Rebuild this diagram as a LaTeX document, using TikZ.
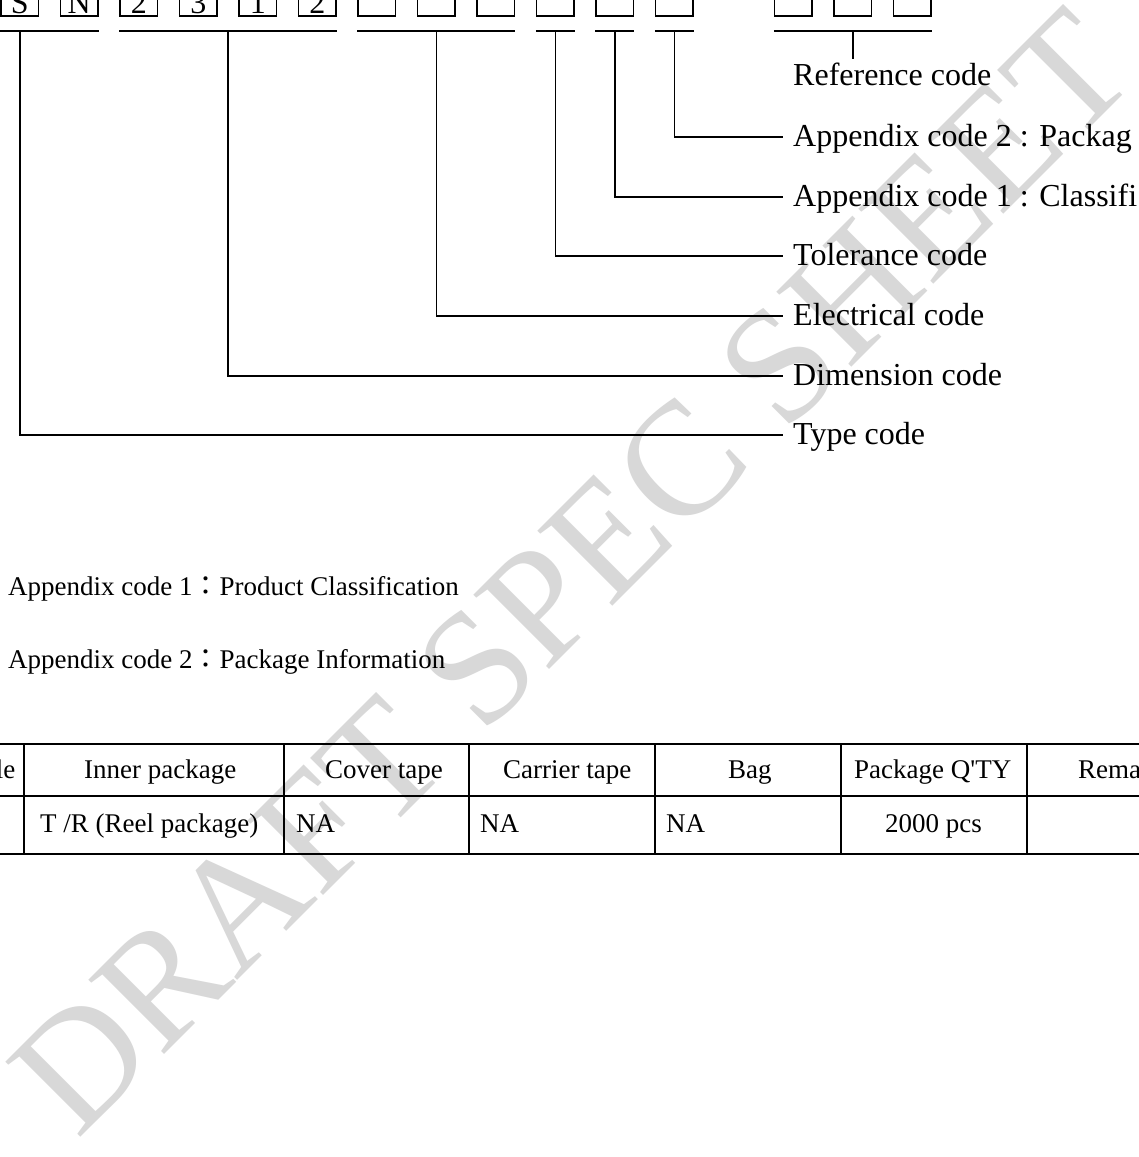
\documentclass[tikz,border=0pt]{standalone}
\usepackage{fontspec}
\setmainfont{Liberation Serif}
\newfontfamily\cjk{Noto Sans CJK TC}
\usetikzlibrary{calc}
\definecolor{wmgray}{RGB}{216,216,216}
\tikzset{
  codebox/.style={draw, line width=1.3pt, minimum width=37.5pt, minimum height=37.5pt, inner sep=0pt},
  boxletter/.style={anchor=base, inner sep=0pt, font=\fontsize{32}{36}\selectfont},
  lbl/.style={anchor=west, inner sep=0pt, text height=24pt, text depth=6pt, font=\fontsize{32}{36}\selectfont},
  conn/.style={line width=1.5pt},
  smalltext/.style={anchor=base west, inner sep=0pt, font=\fontsize{27}{30}\selectfont},
  cell/.style={anchor=west, inner sep=0pt, text height=20pt, text depth=4pt, font=\fontsize{27}{30}\selectfont},
  tabline/.style={line width=1.8pt},
  watermark/.style={rotate=45, inner sep=0pt, text=wmgray, font=\fontsize{162}{162}\selectfont},
}
\begin{document}
\begin{tikzpicture}[x=1pt,y=-1pt]
\useasboundingbox (0,0) rectangle (1139,1157);
\clip (0,0) rectangle (1139,1157);
\fill[white] (0,0) rectangle (1139,1157);

% watermark
\node[watermark] (wm) at (572,572) {DRAFT SPEC SHEET};

% code boxes
\foreach \i in {0,...,11,13,14,15}{
  \node[codebox] (b\i) at ({19.75+59.5*\i},-2.75) {};
}
\foreach \i/\t in {0/S,1/N,2/2,3/3,4/1,5/2}{
  \node[boxletter] (t\i) at ({19.75+59.5*\i},13) {\t};
}

% underline level
\coordinate (u) at (0,31);
\coordinate (m1) at (b0.center);
\coordinate (m2) at ($(b2.west)!0.5!(b5.east)$);
\coordinate (m3) at ($(b6.west)!0.5!(b8.east)$);
\coordinate (m4) at (b9.center);
\coordinate (m5) at (b10.center);
\coordinate (m6) at (b11.center);
\coordinate (m7) at ($(b13.west)!0.5!(b15.east)$);

\draw[conn] (b0.west |- u) -- (b1.east |- u);
\draw[conn] (b2.west |- u) -- (b5.east |- u);
\draw[conn] (b6.west |- u) -- (b8.east |- u);
\draw[conn] (b9.west |- u) -- (b9.east |- u);
\draw[conn] (b10.west |- u) -- (b10.east |- u);
\draw[conn] (b11.west |- u) -- (b11.east |- u);
\draw[conn] (b13.west |- u) -- (b15.east |- u);

% labels
\node[lbl, anchor=base west] (ref) at (793,85) {Reference code};
\node[lbl] (app2) at (793,137) {Appendix code 2 : Packag};
\node[lbl] (app1) at (793,197) {Appendix code 1 : Classifi};
\node[lbl] (tol) at (793,256) {Tolerance code};
\node[lbl] (ele) at (793,316) {Electrical code};
\node[lbl] (dim) at (793,376) {Dimension code};
\node[lbl] (typ) at (793,435) {Type code};

\draw[conn] (m7 |- u) -- ([yshift=2pt]m7 |- ref.north);
\draw[conn] (m6 |- u) |- ([xshift=-10pt]app2.west);
\draw[conn] (m5 |- u) |- ([xshift=-10pt]app1.west);
\draw[conn] (m4 |- u) |- ([xshift=-10pt]tol.west);
\draw[conn] (m3 |- u) |- ([xshift=-10pt]ele.west);
\draw[conn] (m2 |- u) |- ([xshift=-10pt]dim.west);
\draw[conn] (m1 |- u) |- ([xshift=-10pt]typ.west);

% notes
\node[smalltext] (n1) at (8,595) {Appendix code 1{\cjk ：}Product Classification};
\node[smalltext] (n2) at (8,668) {Appendix code 2{\cjk ：}Package Information};

% table
\draw[tabline] (-5,744) -- (1145,744);
\draw[tabline] (-5,796) -- (1145,796);
\draw[tabline] (-5,854) -- (1145,854);
\foreach \x in {24,284,469,655,841,1027}{
  \draw[tabline] (\x,744) -- (\x,854);
}
\node[cell, anchor=east] (h0) at (15.5,770) {le};
\node[cell] (h1) at (84,770) {Inner package};
\node[cell] (h2) at (325,770) {Cover tape};
\node[cell] (h3) at (503,770) {Carrier tape};
\node[cell] (h4) at (728,770) {Bag};
\node[cell] (h5) at (854,770) {Package Q\textquotesingle TY};
\node[cell] (h6) at (1078,770) {Rema};

\node[cell] (d1) at (40,824) {T /R (Reel package)};
\node[cell] (d2) at (296,824) {NA};
\node[cell] (d3) at (480,824) {NA};
\node[cell] (d4) at (666,824) {NA};
\node[cell] (d5) at (885,824) {2000 pcs};
\end{tikzpicture}
\end{document}
